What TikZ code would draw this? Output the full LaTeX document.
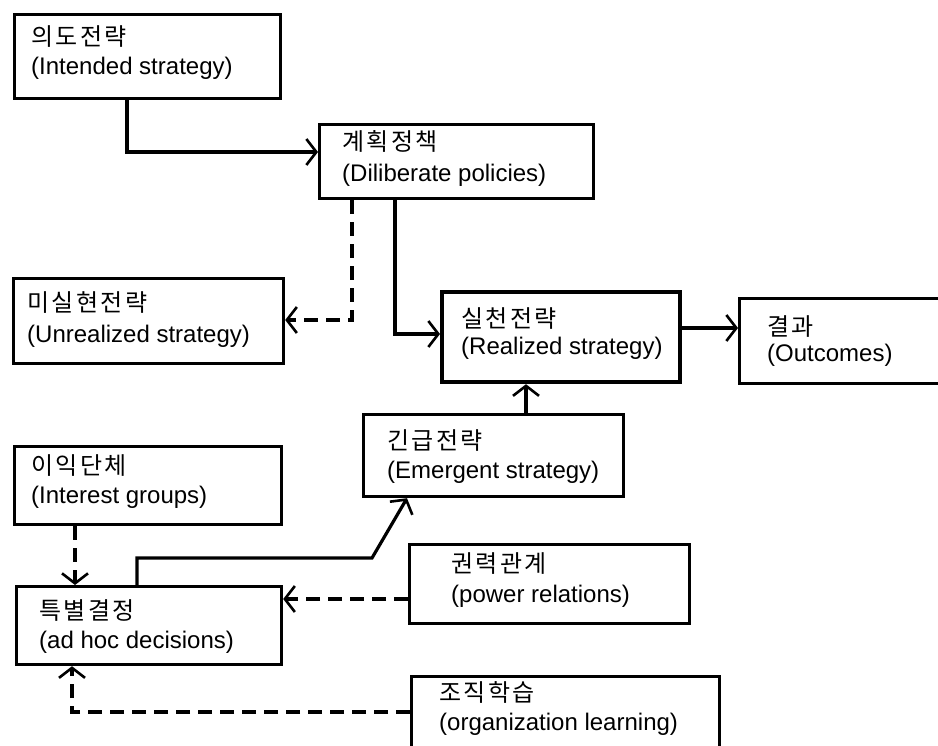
\documentclass[tikz,border=0pt]{standalone}
\usepackage{fontspec}
\setmainfont{Liberation Sans}
\newfontfamily\kr[LetterSpace=10]{Noto Sans CJK KR}
\usetikzlibrary{arrows.meta}
\tikzset{
  box/.style={draw, line width=3.2pt, inner sep=0pt, anchor=north west},
  krtxt/.style={anchor=base west, inner sep=0pt, font=\kr\fontsize{24}{28}\selectfont},
  entxt/.style={anchor=base west, inner sep=0pt, font=\fontsize{24}{28}\selectfont},
  conn/.style={line width=3.2pt, -{Straight Barb[length=10pt,width=26pt,line width=2.6pt]}},
  dconn/.style={conn, dash pattern=on 14pt off 8pt}
}
\begin{document}
\begin{tikzpicture}[x=1pt,y=-1pt]
\clip (0,0) rectangle (938,746);
\fill[white] (0,0) rectangle (938,746);
% boxes
\node[box, minimum width=266pt, minimum height=84pt] (intended) at (13,13) {};
\node[box, minimum width=274pt, minimum height=74pt] (deliberate) at (318,123) {};
\node[box, minimum width=270pt, minimum height=85pt] (unrealized) at (12,277) {};
\node[box, line width=4.2pt, minimum width=238pt, minimum height=90pt] (realized) at (440,290) {};
\node[box, minimum width=230pt, minimum height=85pt] (outcomes) at (738,297) {};
\node[box, minimum width=260pt, minimum height=82pt] (emergent) at (362,413) {};
\node[box, minimum width=267pt, minimum height=78pt] (interest) at (13,445) {};
\node[box, minimum width=265pt, minimum height=78pt] (adhoc) at (15,585) {};
\node[box, minimum width=280pt, minimum height=79pt] (power) at (408,543) {};
\node[box, minimum width=308pt, minimum height=100pt] (learning) at (410,675) {};
% texts
\node[krtxt] (k1) at (31,46) {의도전략};
\node[entxt] (e1) at (31,75) {(Intended strategy)};
\node[krtxt] (k2) at (342,151) {계획정책};
\node[entxt] (e2) at (342,182) {(Diliberate policies)};
\node[krtxt] (k3) at (27,312) {미실현전략};
\node[entxt] (e3) at (27,342) {(Unrealized strategy)};
\node[krtxt] (k4) at (461,327) {실천전략};
\node[entxt] (e4) at (461,355) {(Realized strategy)};
\node[krtxt] (k5) at (767,336) {결과};
\node[entxt] (e5) at (767,362) {(Outcomes)};
\node[krtxt] (k6) at (387,449) {긴급전략};
\node[entxt] (e6) at (387,478) {(Emergent strategy)};
\node[krtxt] (k7) at (31,474) {이익단체};
\node[entxt] (e7) at (31,503) {(Interest groups)};
\node[krtxt] (k8) at (39,619) {특별결정};
\node[entxt] (e8) at (39,648) {(ad hoc decisions)};
\node[krtxt] (k9) at (451,572) {권력관계};
\node[entxt] (e9) at (451,602) {(power relations)};
\node[krtxt] (k10) at (439,701) {조직학습};
\node[entxt] (e10) at (439,730) {(organization learning)};
% connectors
\draw[conn] (127,0 |- intended.south) |- (0,152 -| deliberate.west);
\draw[dconn] (352,0 |- deliberate.south) |- (0,320 -| unrealized.east);
\draw[conn] (395,0 |- deliberate.south) |- (0,334 -| realized.west);
\draw[conn, line width=4pt] (realized.east |- 0,328) -- (outcomes.west |- 0,328);
\draw[conn] (526,0 |- emergent.north) -- (526,0 |- realized.south);
\draw[dconn] (75,0 |- interest.south) -- (75,0 |- adhoc.north);
\draw[conn] (137,0 |- adhoc.north) -- (137,558) -- (372,558) -- (407,0 |- emergent.south);
\draw[dconn] (power.west |- 0,599) -- (adhoc.east |- 0,599);
\draw[dconn] (learning.west |- 0,712) -| (72,0 |- adhoc.south);
\end{tikzpicture}
\end{document}
